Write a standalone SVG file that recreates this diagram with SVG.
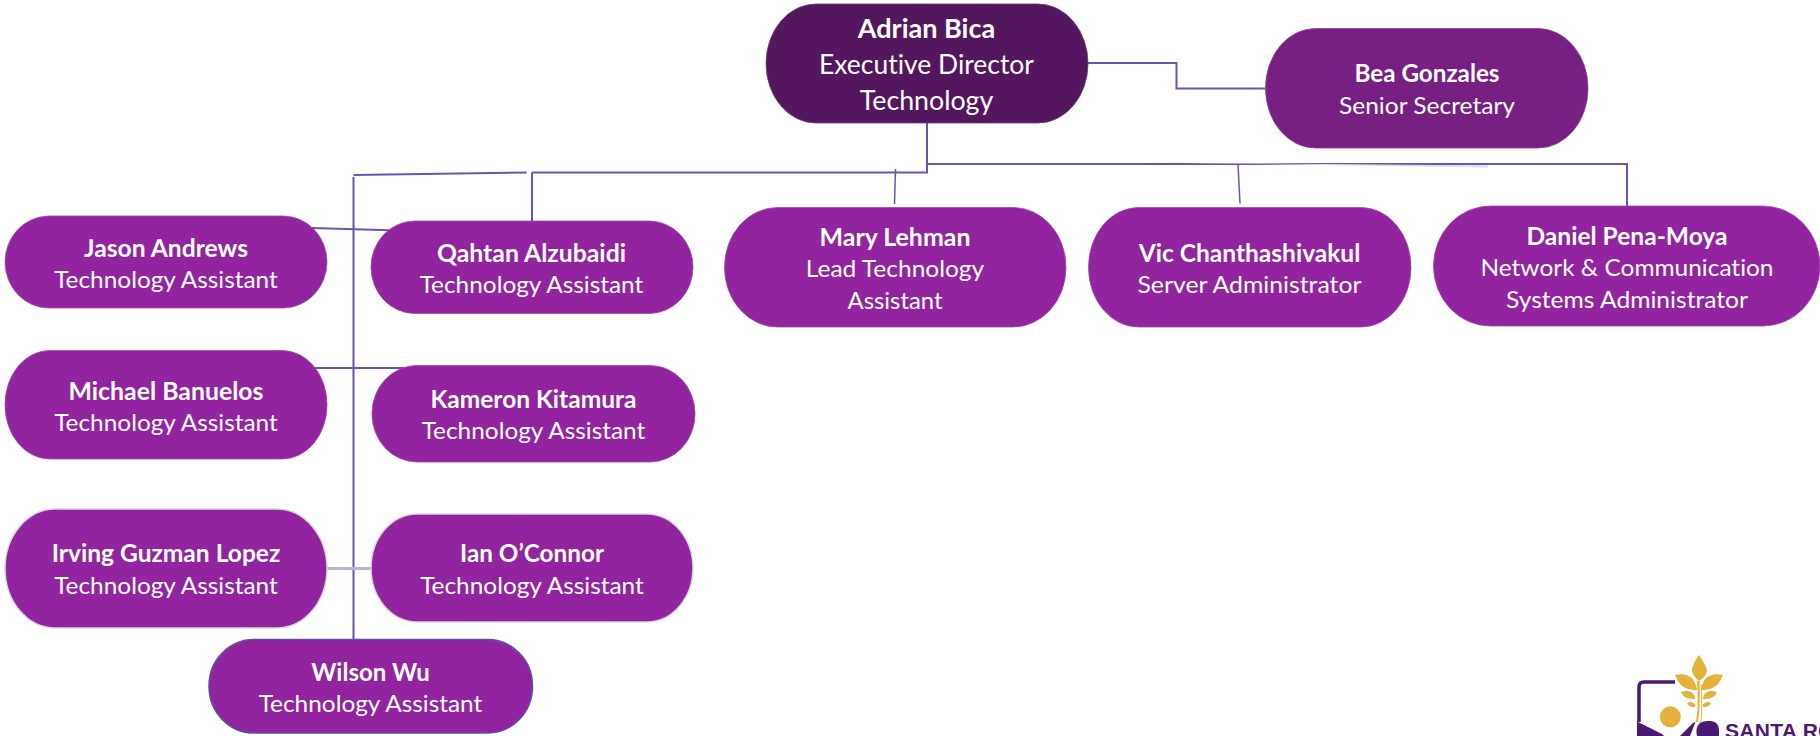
<svg xmlns="http://www.w3.org/2000/svg" width="1820" height="736" viewBox="0 0 1820 736">
<style>
.n{fill:#92249f;stroke:#a048ac;stroke-width:.8}
.t{font-family:Lato,"Liberation Sans",sans-serif;fill:#fff;text-anchor:middle;font-size:24px;font-variant-ligatures:none}
.b{font-weight:700}
.l{fill:none;stroke:#6a55ae;stroke-width:2}
.g{fill:#e3b23c}
</style>
<rect width="1820" height="736" fill="#fff"/>
<g id="connectors">
<path class="l" d="M927 123V172.500H532M532 221V172.500"/>
<path class="l" d="M927 164H1627V206"/>
<path d="M1146 162.500L1488 165.500V167.500Z" fill="#dcdce0"/>
<path class="l" d="M526.500 172.500L353.500 175"/>
<path class="l" d="M353.500 177V640"/>
<path class="l" d="M1088 63H1176.500V88.500H1265"/>
<path class="l" style="stroke-width:1.500" d="M895.500 169L894.500 204"/>
<path class="l" style="stroke-width:1.500" d="M1238 164L1240 203.500"/>
<path class="l" d="M312 228L398 230.500"/>
<path class="l" d="M313 368H413"/>
<path class="l" d="M327 568.500H371" style="stroke:#bab6d2;stroke-width:3"/>
</g>
<g id="adrian"><rect x="766" y="4" width="322" height="119" rx="50" ry="59.500" fill="#54165e" stroke="#6d3a78" stroke-width=".8"/>
<text class="t b" x="926.500" y="38" style="font-size:26px" lengthAdjust="spacingAndGlyphs" textLength="137.500">Adrian Bica</text><text class="t" x="926.500" y="74" style="font-size:26px" lengthAdjust="spacingAndGlyphs" textLength="215">Executive Director</text><text class="t" x="926.500" y="110" style="font-size:26px" lengthAdjust="spacingAndGlyphs" textLength="133.500">Technology</text></g>
<g id="bea"><rect x="1265.500" y="28.500" width="322.500" height="119.500" rx="50" ry="59.500" fill="#771f83" stroke="#8a4295" stroke-width=".8"/>
<text class="t b" x="1427" y="82.200" lengthAdjust="spacingAndGlyphs" textLength="145">Bea Gonzales</text><text class="t" x="1427" y="113.500" lengthAdjust="spacingAndGlyphs" textLength="176">Senior Secretary</text></g>
<g id="mary"><rect class="n" x="724.500" y="207.500" width="341.500" height="119.500" rx="53" ry="59.500"/>
<text class="t b" x="895" y="245.700" lengthAdjust="spacingAndGlyphs" textLength="151">Mary Lehman</text><text class="t" x="895" y="277" lengthAdjust="spacingAndGlyphs" textLength="178.500">Lead Technology</text><text class="t" x="895" y="309" lengthAdjust="spacingAndGlyphs" textLength="95">Assistant</text></g>
<g id="vic"><rect class="n" x="1088.500" y="207.500" width="322.500" height="119.500" rx="50" ry="59.500"/>
<text class="t b" x="1249.500" y="261.500" lengthAdjust="spacingAndGlyphs" textLength="221.500">Vic Chanthashivakul</text><text class="t" x="1249.500" y="293" lengthAdjust="spacingAndGlyphs" textLength="224">Server Administrator</text></g>
<g id="daniel"><rect class="n" x="1433.500" y="206" width="386.500" height="120" rx="57" ry="60"/>
<text class="t b" x="1627" y="244.700" lengthAdjust="spacingAndGlyphs" textLength="201">Daniel Pena-Moya</text><text class="t" x="1627" y="276" lengthAdjust="spacingAndGlyphs" textLength="293">Network &amp; Communication</text><text class="t" x="1627" y="308" lengthAdjust="spacingAndGlyphs" textLength="242">Systems Administrator</text></g>
<g id="jason"><rect class="n" x="5" y="216" width="322" height="92" rx="44" ry="46"/>
<text class="t b" x="166" y="256.500" lengthAdjust="spacingAndGlyphs" textLength="164">Jason Andrews</text><text class="t" x="166" y="288" lengthAdjust="spacingAndGlyphs" textLength="223.600">Technology Assistant</text></g>
<g id="qahtan"><rect class="n" x="371" y="221" width="322" height="92.500" rx="44" ry="46"/>
<text class="t b" x="531.500" y="261.500" lengthAdjust="spacingAndGlyphs" textLength="189">Qahtan Alzubaidi</text><text class="t" x="531.500" y="293" lengthAdjust="spacingAndGlyphs" textLength="223.600">Technology Assistant</text></g>
<g id="michael"><rect class="n" x="5" y="350.500" width="322" height="108.500" rx="45" ry="54"/>
<text class="t b" x="166" y="399.700" lengthAdjust="spacingAndGlyphs" textLength="195">Michael Banuelos</text><text class="t" x="166" y="431" lengthAdjust="spacingAndGlyphs" textLength="223.600">Technology Assistant</text></g>
<g id="kameron"><rect class="n" x="372" y="365.500" width="323" height="96.500" rx="45" ry="48"/>
<text class="t b" x="533.500" y="407.700" lengthAdjust="spacingAndGlyphs" textLength="206">Kameron Kitamura</text><text class="t" x="533.500" y="439" lengthAdjust="spacingAndGlyphs" textLength="223.600">Technology Assistant</text></g>
<g id="irving"><rect class="n" style="stroke:#d9d9d9;stroke-width:1.500" x="5" y="509" width="322" height="119" rx="50" ry="59.500"/>
<text class="t b" x="166" y="561.700" lengthAdjust="spacingAndGlyphs" textLength="228.600">Irving Guzman Lopez</text><text class="t" x="166" y="594" lengthAdjust="spacingAndGlyphs" textLength="223.600">Technology Assistant</text></g>
<g id="ian"><rect class="n" style="stroke:#d9d9d9;stroke-width:1.500" x="371" y="514" width="322" height="108" rx="46" ry="54"/>
<text class="t b" x="532" y="561.700" lengthAdjust="spacingAndGlyphs" textLength="144">Ian O’Connor</text><text class="t" x="532" y="594" lengthAdjust="spacingAndGlyphs" textLength="223.600">Technology Assistant</text></g>
<g id="wilson"><rect class="n" style="stroke:#5f4ea6;stroke-width:1.500" x="209" y="639.500" width="323.500" height="93.500" rx="45" ry="46.500"/>
<text class="t b" x="370.500" y="680.700" lengthAdjust="spacingAndGlyphs" textLength="118.500">Wilson Wu</text><text class="t" x="370.500" y="711.500" lengthAdjust="spacingAndGlyphs" textLength="223.600">Technology Assistant</text></g>
<g id="logo">
<path class="g" d="M1699 655C1694 662 1692 667 1692 671C1693 676 1697 679 1699 681C1702 679 1706 676 1707 671C1707 667 1703 661 1699 655Z"/>
<path class="g" d="M1675 675C1683 673 1691 675 1694 681C1696 685 1697 688 1697 690C1690 690 1684 688 1681 685C1678 682 1677 679 1675 675Z"/>
<path class="g" d="M1723 675C1715 673 1707 675 1704 681C1702 685 1701 688 1701 690C1708 690 1714 688 1717 685C1720 682 1721 679 1723 675Z"/>
<path class="g" d="M1681 692C1686 690 1692 691 1694 695C1695 697 1695 698 1695 699C1690 699 1686 698 1685 697C1683 696 1682 694 1681 692Z"/>
<path class="g" d="M1717 692C1712 690 1706 691 1704 695C1703 697 1703 698 1703 699C1708 699 1712 698 1713 697C1715 696 1716 694 1717 692Z"/>
<path class="g" d="M1687 703C1690 701 1694 702 1696 706C1693 708 1689 707 1687 703Z"/>
<path class="g" d="M1711 703C1708 701 1704 702 1702 706C1705 708 1709 707 1711 703Z"/>
<path d="M1697 681C1698 695 1698 710 1696 722H1698C1700 710 1700 695 1699.500 681Z" class="g"/>
<path d="M1701 684C1702 697 1702 710 1701 722H1699" fill="none" stroke="#e3b23c"/>
<circle class="g" cx="1670.300" cy="716.800" r="10.500"/>
<path d="M1675 682H1644Q1639 682 1639 687V722" fill="none" stroke="#4a1a72" stroke-width="3.500"/>
<path d="M1637 721.500L1662 734L1664 736H1637Z" fill="#4a1a72"/>
<path d="M1680 736L1693 723L1695.500 722L1690 736Z" fill="#4a1a72"/>
<path d="M1697 736Q1694 722 1707 721H1711Q1719 722 1719 730V736Z" fill="#4a1a72"/>
<text x="1725" y="737.500" font-family="'Liberation Sans',sans-serif" font-size="21" font-weight="700" letter-spacing=".3" fill="#4a1a72">SANTA RO</text>
</g>
</svg>
